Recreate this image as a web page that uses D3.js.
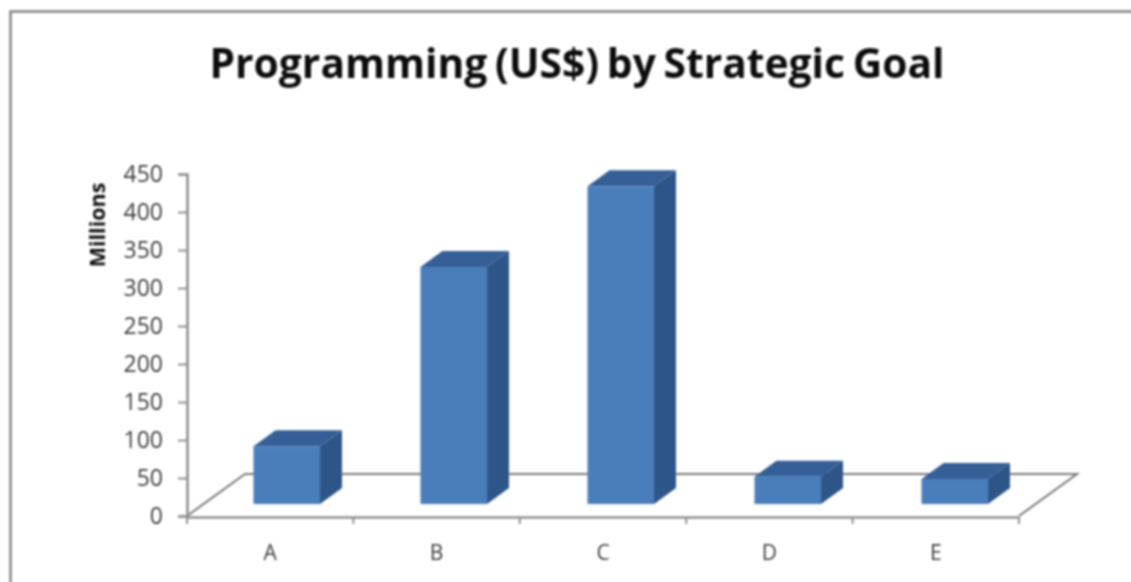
<!DOCTYPE html>
<html><head><meta charset="utf-8">
<script src="https://cdn.jsdelivr.net/npm/d3@7"></script>
<style>html,body{margin:0;background:#fff}svg{display:block}text{font-family:"Open Sans",sans-serif}</style>
</head><body><div id="c"></div>
<script>
const categories=["A","B","C","D","E"];
const values=[76,312,418,36,33];
const yTicks=[0,50,100,150,200,250,300,350,400,450];
const titleText="Programming (US$) by Strategic Goal";
const yLabel="Millions";

const W=1131,H=582;
const svg=d3.select("#c").append("svg").attr("width",W).attr("height",H);
const defs=svg.append("defs");
defs.append("filter").attr("id","soft")
  .attr("filterUnits","userSpaceOnUse").attr("x",0).attr("y",0).attr("width",W).attr("height",H)
  .append("feGaussianBlur").attr("stdDeviation",0.9);
const g=svg.append("g").attr("filter","url(#soft)");

// frame (open on the right and at the bottom)
g.append("path").attr("d",`M10.5,${H+4}V11.5H${W+4}`).attr("fill","none").attr("stroke","#808080").attr("stroke-width",2.4);

const band=d3.scaleBand().domain(categories).range([187,1019]);
const barBand=d3.scaleBand().domain(categories).range([186,1021]);
const y=d3.scaleLinear().domain([0,450]).range([516,174]);
const depthX=58,depthY=-42;      // floor depth
const barDX=22,barDY=-16;        // bar depth
const barFrontX=d=>barBand(d)+barBand.bandwidth()/2-16;
const barW=66.5;
const baseY=504;
const k=(y(0)-y(1));

// floor
g.append("path")
 .attr("d",`M187,516L${187+depthX},${516+depthY}H${1019+depthX}L1019,516`)
 .attr("fill","none").attr("stroke","#7a7a7a").attr("stroke-width",2);

// axes
const yAxis=d3.axisLeft(y).tickValues(yTicks).tickSize(9).tickPadding(15);
const ga=g.append("g").attr("transform","translate(187,0)").call(yAxis);
const xAxis=d3.axisBottom(band).tickSize(0).tickPadding(28);
const gb=g.append("g").attr("transform","translate(0,517)").call(xAxis);
[ga,gb].forEach(s=>{s.selectAll("path").attr("stroke","#909090").attr("stroke-width",2.6);
  s.selectAll("line").attr("stroke","#909090").attr("stroke-width",2);});
ga.selectAll("text").attr("font-size",23).attr("fill","#3c3c3c").attr("dy","0.33em");
gb.selectAll("text").attr("font-size",21).attr("fill","#3c3c3c").attr("dy","0.71em");
// category tick marks at band edges
gb.selectAll(".edge").data(categories.concat("end")).join("line").attr("class","edge")
 .attr("x1",d=>d==="end"?1019:band(d)).attr("x2",d=>d==="end"?1019:band(d))
 .attr("y1",0).attr("y2",7).attr("stroke","#909090").attr("stroke-width",2);

// bars
const bars=g.selectAll(".bar").data(categories.map((c,i)=>({c,v:values[i]}))).join("g").attr("class","bar");
bars.append("path").attr("fill","#2f5487").attr("d",d=>{
  const r=barFrontX(d.c)+barW,t=baseY-d.v*k;
  return `M${r},${t}L${r+barDX},${t+barDY}V${baseY+barDY}L${r},${baseY}Z`;});
bars.append("path").attr("fill","#365f96").attr("d",d=>{
  const l=barFrontX(d.c),t=baseY-d.v*k;
  return `M${l},${t}L${l+barDX},${t+barDY}H${l+barW+barDX}L${l+barW},${t}Z`;});
bars.append("rect").attr("fill","#4a7ebb")
  .attr("x",d=>barFrontX(d.c)).attr("width",barW)
  .attr("y",d=>baseY-d.v*k).attr("height",d=>d.v*k);

// title
g.append("text").attr("x",577).attr("y",78).attr("text-anchor","middle")
 .attr("font-size",42).attr("font-weight",700).attr("fill","#111").attr("word-spacing",-3)
 .attr("textLength",735).attr("lengthAdjust","spacingAndGlyphs").text(titleText);
g.append("text").attr("transform","translate(105,225) rotate(-90)").attr("text-anchor","middle")
 .attr("font-size",21.5).attr("font-weight",700).attr("fill","#111").text(yLabel);
</script></body></html>
